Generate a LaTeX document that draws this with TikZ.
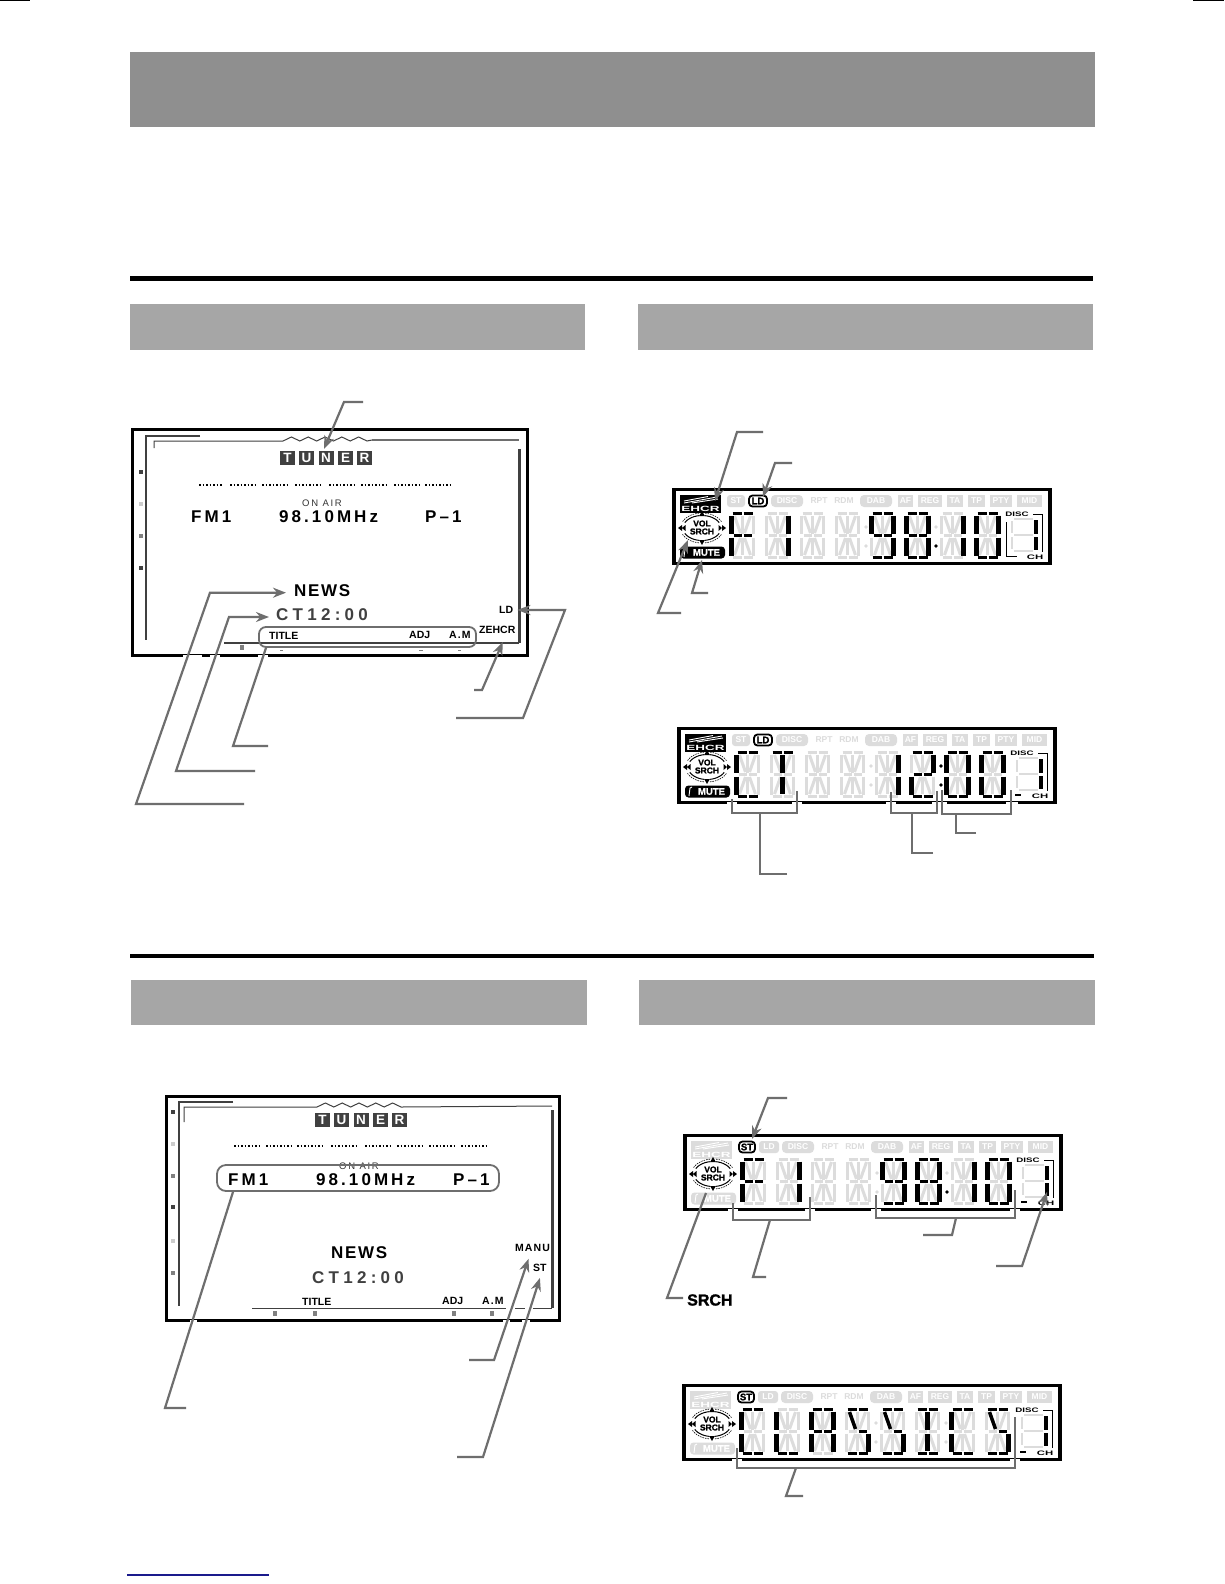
\documentclass[tikz,border=0pt]{standalone}
\usepackage{fontspec}
\usetikzlibrary{arrows.meta}
\setmainfont{Liberation Sans}
\newfontfamily\trkA[LetterSpace=18]{Liberation Sans}
\newfontfamily\trkB[LetterSpace=30]{Liberation Sans}
\newfontfamily\trkC[LetterSpace=10]{Liberation Sans}
\newfontfamily\trkD[LetterSpace=25]{Liberation Sans}
\newfontfamily\heavy[FakeBold=1.5]{Liberation Sans}
\newcommand\fs[1]{\fontsize{#1}{#1}\selectfont}
\definecolor{lcdfaint}{HTML}{DCDCDC}
\definecolor{leadc}{HTML}{6E6E6E}
\definecolor{darkc}{HTML}{404040}
\definecolor{barA}{HTML}{8F8F8F}
\definecolor{barB}{HTML}{A6A6A6}
\definecolor{navyline}{HTML}{1A1A8C}
\tikzset{
  leader/.style={draw=leadc,line width=2.2pt,line join=miter},
  tipped/.style={leader,-{Stealth[length=13pt,width=10pt]}},
  txt/.style={inner sep=0pt,anchor=west,font=\bfseries},
  bigt/.style={txt,font=\trkA\bfseries\fs{17}},
  smallt/.style={txt,font=\bfseries\fs{10.5}},
  fatframe/.style={draw=black,line width=3.4pt},
  rbox/.style={draw=leadc,line width=1.8pt,rounded corners=7pt,inner sep=0pt},
  vseg/.style={},
  faintseg/.style={draw=lcdfaint,line width=3pt,vseg/.style={line width=3.8pt}},
  litseg/.style={draw=black,line width=3.5pt,vseg/.style={line width=5pt}},
  ficon/.style={fill=lcdfaint,text=white,inner sep=0pt,font=\bfseries\fs{8.5},minimum height=12pt},
  liticon/.style={draw=black,fill=white,line width=1.8pt,rounded corners=3.5pt,inner sep=0pt,minimum height=11pt,font=\heavy\bfseries\fs{9.5}},
}
\newcommand\defseg[2]{\expandafter\def\csname Sg#1\endcsname{#2}}
\defseg{Aa}{(3,1.5)--(12,1.5)}
\defseg{Ab}{(14,1.5)--(23,1.5)}
\defseg{Da}{(3,45.5)--(12,45.5)}
\defseg{Db}{(14,45.5)--(23,45.5)}
\defseg{La}{[vseg](2,3.5)--(2,21.5)}
\defseg{Lb}{[vseg](2,25.5)--(2,43.5)}
\defseg{Ra}{[vseg](24,3.5)--(24,21.5)}
\defseg{Rb}{[vseg](24,25.5)--(24,43.5)}
\defseg{Ga}{(4,23.5)--(12,23.5)}
\defseg{Gb}{(14,23.5)--(22,23.5)}
\defseg{Va}{[vseg](13,4)--(13,21.5)}
\defseg{Vb}{[vseg](13,25.5)--(13,43)}
\defseg{Xa}{(5,4)--(11,21)}
\defseg{Xb}{(21,4)--(15,21)}
\defseg{Xc}{(11,26)--(5,43)}
\defseg{Xd}{(15,26)--(21,43)}
\def\allsegs{Aa,Ab,Da,Db,La,Lb,Ra,Rb,Ga,Gb,Va,Vb,Xa,Xb,Xc,Xd}
\def\LtF{Aa,Ab,La,Lb,Ga,Gb}
\def\LtI{Ra,Rb}
\def\LtN{Aa,Ab,La,Ra,Rb,Ga,Gb,Da,Db}
\def\LtE{Aa,Ab,La,Lb,Ra,Rb,Ga,Gb,Da,Db}
\def\LtO{Aa,Ab,La,Lb,Ra,Rb,Da,Db}
\def\LtC{Aa,Ab,La,Lb,Da,Db}
\def\LtT{Aa,Ab,Va,Vb}
\def\LtB{Aa,Ab,Ra,Ga,Gb,Lb,Da,Db}
\def\LtL{La,Lb,Da,Db}
\def\LtA{Aa,Ab,La,Lb,Ra,Rb,Ga,Gb}
\def\LtS{Aa,Ab,Xa,Gb,Rb,Da,Db}
\def\LtJ{Aa,Ab,Va,Vb,Da,Db}
\newcommand\segs[2]{\foreach \sg in #1{\expandafter\let\expandafter\thisseg\csname Sg\sg\endcsname \draw[#2] \thisseg;}}
% #1 prefix #2 x #3 y #4 ehcr #5 st #6 ld #7 mute #8 lit chars #9 mode
\newcommand\lcdpanel[9]{%
\begin{scope}[shift={(#2,#3)}]
  \node[fatframe,inner sep=0pt,minimum width=376pt,minimum height=74pt] (#1frame) at (190,39.5) {};
  % ehcr
  \ifnum#4=1 \def\ec{black}\def\tc{white}\else \def\ec{lcdfaint}\def\tc{white}\fi
  \node[fill=\ec,inner sep=0pt,minimum width=41pt,minimum height=18pt] (#1ehcr) at (28.5,17) {};
  \node[inner sep=0pt,text=\tc] (#1ehcrt) at (28.5,21.5) {\scalebox{1.8}[1]{\bfseries\fs{7.5}EHCR}};
  \draw[\tc,line width=.9pt] (12,16)--(45,10) (20,16)--(46,12) (12,14)--(36,9.5);
  % icons
  \ifnum#5=1
    \node[liticon,minimum width=16pt] (#1st) at (64,14) {ST};
  \else
    \node[ficon,rounded corners=3pt,minimum width=18pt] (#1st) at (64,14) {ST};
  \fi
  \ifnum#6=1
    \node[liticon,minimum width=18pt] (#1ld) at (86,14) {LD};
  \else
    \node[ficon,rounded corners=3pt,minimum width=20pt] (#1ld) at (86,14) {LD};
  \fi
  \node[ficon,rounded corners=4pt,minimum width=32pt] (#1disc) at (115,14) {DISC};
  \node[inner sep=0pt,font=\bfseries\fs{8.5},text=lcdfaint] (#1rpt) at (147,14) {RPT};
  \node[inner sep=0pt,font=\bfseries\fs{8.5},text=lcdfaint] (#1rdm) at (172,14) {RDM};
  \node[ficon,rounded corners=4pt,minimum width=32pt] (#1dab) at (204,14) {DAB};
  \node[ficon,minimum width=15pt] (#1af) at (233.5,14) {AF};
  \node[ficon,minimum width=24pt] (#1reg) at (258,14) {REG};
  \node[ficon,minimum width=16pt] (#1ta) at (283,14) {TA};
  \node[ficon,minimum width=17pt] (#1tp) at (304.5,14) {TP};
  \node[ficon,minimum width=22pt] (#1pty) at (329,14) {PTY};
  \node[ficon,minimum width=25pt] (#1mid) at (357.5,14) {MID};
  % vol srch
  \begin{scope}[shift={(30,41)}]
    \node[inner sep=0pt,font=\heavy\bfseries\fs{8.5}] (#1vol) at (0,-4.5) {VOL};
    \node[inner sep=0pt,font=\heavy\bfseries\fs{8.5}] (#1srch) at (0,3.5) {SRCH};
    \foreach \ra/\rb in {25/82,98/155,205/262,278/335}{
      \draw[black,line width=1pt] plot[domain=\ra:\rb,samples=8] ({19*cos(\x)},{-12.5*sin(\x)});
      \draw[black,line width=.6pt,dash pattern=on 1.5pt off 1pt] plot[domain=\ra:\rb,samples=8] ({21.5*cos(\x)},{-15*sin(\x)});
    }
    \fill[black] (0,-17)--(-2.8,-12)--(2.8,-12)--cycle;
    \fill[black] (0,17)--(-2.8,12)--(2.8,12)--cycle;
    \fill[black] (-24,0)--(-20,-3)--(-20,3)--cycle (-20,0)--(-16.5,-3)--(-16.5,3)--cycle;
    \fill[black] (24,0)--(20,-3)--(20,3)--cycle (20,0)--(16.5,-3)--(16.5,3)--cycle;
  \end{scope}
  % mute
  \ifnum#7=1 \def\mc{black}\else \def\mc{lcdfaint}\fi
  \node[fill=\mc,text=white,rounded corners=3.5pt,inner sep=0pt,minimum width=45pt,minimum height=12pt,font=\heavy\bfseries\fs{9.5}] (#1mute) at (30.5,65.5) {\hspace{8pt}MUTE};
  \draw[white,line width=.9pt] (12,70)--(13,62)--(15,61);
  % 14-seg characters
  \foreach \ci in {0,...,7}{\begin{scope}[shift={(57.5+35*\ci,25)}]\segs{\allsegs}{faintseg}\end{scope}}
  \foreach \ci/\cn in #8{\begin{scope}[shift={(57.5+35*\ci,25)}]
     \expandafter\let\expandafter\thisl\csname Lt\cn\endcsname \segs{\thisl}{litseg}\end{scope}}
  % dots
  \fill[lcdfaint] (194,40) circle (1.8) (194,59) circle (1.8) (264,40) circle (1.8);
  \ifnum#9=2
    \fill[black] (264,40) circle (1.8) (264,59) circle (1.8);
  \else\ifnum#9=4
    \fill[lcdfaint] (264,59) circle (1.8);
  \else
    \fill[black] (264,59) circle (1.8);
  \fi\fi
  % small digit
  \draw[lcdfaint,line width=2.6pt] (342,32)--(361,32) (342,48)--(361,48) (342,64)--(361,64) (340,34)--(340,46) (340,50)--(340,62);
  \draw[black,line width=3.2pt] (364,33)--(364,47) (364,50)--(364,63);
  \node[inner sep=0pt] (#1dsc) at (345,27) {\scalebox{1.5}[1]{\bfseries\fs{6.5}DISC}};
  \node[inner sep=0pt] (#1ch) at (363,70) {\scalebox{1.75}[1]{\bfseries\fs{6.5}CH}};
  \draw[black,line width=.8pt] (361,27)--(370,27)--(370,65);
  \ifnum#9=1
    \draw[black,line width=.8pt] (334,35)--(334,69)--(345,69);
  \else
    \draw[black,line width=1.3pt] (338,69)--(344,69);
  \fi
\end{scope}}
\newcommand\tunerbox[3]{\node[fill=darkc,text=white,font=\bfseries\fs{13.5},inner sep=0pt,minimum width=15pt,minimum height=14pt] (#1) at (#2) {#3};}
\begin{document}
\begin{tikzpicture}[x=1pt,y=-1pt]
\useasboundingbox (0,0) rectangle (1224,1584);
\fill[white] (0,0) rectangle (1224,1584);
% crop marks, bars, rules
\draw[black,line width=1.4pt] (0,.7)--(30,.7) (1193,.7)--(1224,.7);
\fill[barA] (130,52) rectangle (1095,127);
\fill[black] (130,276) rectangle (1093,281);
\fill[barB] (130,304) rectangle (585,350);
\fill[barB] (638,304) rectangle (1093,350);
\fill[black] (130,954) rectangle (1094,958);
\fill[barB] (131,980) rectangle (587,1025);
\fill[barB] (639,980) rectangle (1095,1025);
\draw[navyline,line width=1.3pt] (127,1575)--(269,1575);

%% SCREEN 1
\node[fatframe,inner sep=0pt,minimum width=394.6pt,minimum height=225.6pt] (sa) at (330,542.5) {};
\draw[darkc,line width=1.5pt] (200,436)--(146,436)--(146,640);
\draw[darkc,line width=1pt] (154,448)--(154,441)--(283,441) -- ++(8.4,-4) -- ++(8.4,4) -- ++(8.4,-4) -- ++(8.4,4) -- ++(8.4,-4) -- ++(8.4,4) -- ++(8.4,-4) -- ++(8.4,4) -- ++(8.4,-4) -- ++(8.4,4) -- ++(5,-1);
\draw[leadc,line width=1.2pt] (372,440)--(519,440);
\draw[darkc,line width=3pt] (519,449)--(519,643);
\draw[darkc,line width=1.2pt] (224,643)--(519,643);
\foreach \yy/\cc in {472/darkc,504/gray!40,536/gray,568/darkc}{\fill[\cc] (139,\yy-2) rectangle (143,\yy+2);}
\tunerbox{saT}{287.5,458}{T}
\tunerbox{saU}{306.5,458}{U}
\tunerbox{saN}{326,458}{N}
\tunerbox{saE}{345.5,458}{E}
\tunerbox{saR}{364.5,458}{R}
\foreach \xa/\xb in {199/223,230/255,262/287,295/320,329/354,361/387,394/419,425/451}{
  \draw[black,line width=1.3pt,dash pattern=on 1.6pt off 1.9pt] (\xa,485)--(\xb,485);}
\node[txt,anchor=center,font=\trkA\fs{9.5},text=black!80] (saon) at (322,503) {ON AIR};
\node[bigt] (safm) at (191,517) {FM1};
\node[bigt] (safr) at (279,517) {98.10MHz};
\node[bigt] (sap) at (425,517) {P–1};
\node[txt,font=\trkC\bfseries\fs{17}] (sanews) at (294,591) {NEWS};
\node[txt,font=\trkD\bfseries\fs{17},text=darkc] (sact) at (276,615) {CT12:00};
\node[rbox,minimum width=217pt,minimum height=20pt] (sabox) at (367.5,637) {};
\node[smallt] (satitle) at (269,636) {TITLE};
\node[smallt] (saadj) at (409,635) {ADJ};
\node[smallt,font=\trkC\bfseries\fs{10.5}] (saam) at (449,635) {A.M};
\node[smallt] (saz) at (479,630) {ZEHCR};
\node[smallt] (sald) at (499,610) {LD};
\fill[gray] (240,645) rectangle (244,650);
\draw[gray,line width=.8pt] (280,650)--(283,650) (419,650)--(423,650) (458,650)--(461,650);
\draw[white,line width=5pt] (183,657)--(202,657) (210,657)--(220,657) (258,657)--(268,657);
\coordinate (a1) at (363,402);
\coordinate (a2) at (244,804);
\coordinate (a3) at (255,771);
\coordinate (a4) at (268,746);
\coordinate (a5) at (474,690);
\coordinate (a6) at (456,718);
\draw[tipped] (a1)--(344,402)--([shift={(-2,-9)}]saN.center);
\draw[tipped] (a2)--(136,804)--(210,592.7)--([xshift=-8pt,shift={(0,1.7)}]sanews.west);
\draw[tipped] (a3)--(176,771)--(229,617)--([xshift=-7pt,shift={(0,2)}]sact.west);
\draw[leader] (a4)--(233,746)--([xshift=-101.5pt]sabox.south);
\draw[tipped] (a5)--(482,690)--([shift={(5.5,12)}]saz.center);
\draw[tipped] (a6)--(523,718)--(565,610)--([xshift=4pt]sald.east);

%% PANEL 1
\lcdpanel{pa}{672}{487}{1}{0}{1}{1}{{0/F,1/I,4/N,5/E,6/I,7/O}}{1}
\coordinate (b1) at (763,432);
\coordinate (b2) at (792,463);
\coordinate (b3) at (681,613);
\coordinate (b4) at (708,593);
\draw[tipped] (b1)--(737,432)--([shift={(14.5,-3)}]paehcr.center);
\draw[tipped] (b2)--(775,463)--([shift={(5,-4)}]pald.center);
\draw[tipped] (b3)--(658,613)--([shift={(-14,8.5)}]pasrch.center);
\draw[tipped] (b4)--(692,593)--([shift={(-.5,7.5)}]pamute.center);

%% PANEL 2
\lcdpanel{pb}{677}{726}{1}{0}{1}{1}{{0/C,1/T,4/I,5/B,6/O,7/O}}{2}
\draw[white,line width=5pt] (727,804)--(737,804) (792,804)--(802,804) (886,804)--(896,804) (932,804)--(947,804) (1006,804)--(1018,804);
\coordinate (c1) at (787,874);
\coordinate (c2) at (933,853);
\coordinate (c3) at (976,833);
\draw[leader] (732,799)--(732,813)--(797,813)--(797,791);
\draw[leader] (891,792)--(891,813)--(937,813)--(937,791);
\draw[leader] (942,790)--(942,814)--(1011,814)--(1011,790);
\draw[leader] (c1)--(760,874)--(760,813);
\draw[leader] (c2)--(912,853)--(912,813);
\draw[leader] (c3)--(956,833)--(956,814);

%% SCREEN 2
\node[fatframe,inner sep=0pt,minimum width=392.6pt,minimum height=223.6pt] (sb) at (363,1208.5) {};
\draw[darkc,line width=1.5pt] (233,1102)--(179,1102)--(179,1306);
\draw[darkc,line width=1pt] (184,1122)--(184,1107)--(317,1107) -- ++(8.4,-4) -- ++(8.4,4) -- ++(8.4,-4) -- ++(8.4,4) -- ++(8.4,-4) -- ++(8.4,4) -- ++(8.4,-4) -- ++(8.4,4) -- ++(8.4,-4) -- ++(8.4,4) -- (552,1106);
\draw[darkc,line width=3pt] (552,1110)--(552,1308);
\draw[darkc,line width=1pt] (252,1308)--(552,1308);
\foreach \yy/\cc in {1112/darkc,1144/gray!40,1176/gray,1207/darkc,1241/gray!40,1273/gray}{\fill[\cc] (171,\yy-2) rectangle (175,\yy+2);}
\tunerbox{sbT}{322.5,1119.5}{T}
\tunerbox{sbU}{341.5,1119.5}{U}
\tunerbox{sbN}{361,1119.5}{N}
\tunerbox{sbE}{380.5,1119.5}{E}
\tunerbox{sbR}{399.5,1119.5}{R}
\foreach \xa/\xb in {234/260,266/292,297/323,331/357,365/391,397/422,429/454,461/487}{
  \draw[black,line width=1.3pt,dash pattern=on 1.6pt off 1.9pt] (\xa,1146)--(\xb,1146);}
\node[txt,anchor=center,font=\trkA\fs{9.5},text=black!80] (sbon) at (359,1166) {ON AIR};
\node[rbox,minimum width=282pt,minimum height=26pt,rounded corners=9pt] (sbbox) at (358,1178) {};
\node[bigt] (sbfm) at (228,1180) {FM1};
\node[bigt] (sbfr) at (316,1180) {98.10MHz};
\node[bigt] (sbp) at (453,1180) {P–1};
\node[txt,font=\trkC\bfseries\fs{17}] (sbnews) at (331,1253) {NEWS};
\node[txt,font=\trkD\bfseries\fs{17},text=darkc] (sbct) at (312,1278) {CT12:00};
\node[smallt] (sbtitle) at (302,1302) {TITLE};
\node[smallt] (sbadj) at (442,1301) {ADJ};
\node[smallt,font=\trkC\bfseries\fs{10.5}] (sbam) at (482,1301) {A.M};
\node[smallt,font=\trkC\bfseries\fs{10.5}] (sbmanu) at (515,1248) {MANU};
\node[smallt] (sbst) at (533,1268) {ST};
\foreach \xx in {275,315,454,492}{\fill[gray] (\xx-2,1311) rectangle (\xx+2,1316);}
\draw[white,line width=5pt] (190,1322)--(197,1322) (503,1322)--(510,1322) (522,1322)--(530,1322);
\draw[white,line width=2pt] (506,1308)--(515,1308) (525,1308)--(533,1308);
\coordinate (d1) at (186,1408);
\coordinate (d2) at (469,1360);
\coordinate (d3) at (457,1457);
\draw[leader] (d1)--(165,1408)--([xshift=-125pt]sbbox.south);
\draw[tipped] (d2)--(494,1360)--([shift={(-4,7)}]sbmanu.south);
\draw[tipped] (d3)--(483,1457)--([shift={(0,6)}]sbst.south);

%% PANEL 3
\lcdpanel{pc}{683}{1133}{0}{1}{0}{0}{{0/F,1/I,4/N,5/E,6/I,7/O}}{3}
\draw[white,line width=5pt] (728,1211)--(738,1211) (805,1211)--(815,1211) (871,1211)--(881,1211) (1010,1211)--(1020,1211);
\coordinate (e1) at (787,1098);
\coordinate (e2) at (766,1277);
\coordinate (e3) at (923,1235);
\coordinate (e4) at (996,1266);
\node[txt,font=\heavy\bfseries\fs{16}] (esr) at (687,1300) {SRCH};
\draw[leader] (733,1203)--(733,1220)--(810,1220)--(810,1197);
\draw[leader] (876,1195)--(876,1218)--(1015,1218)--(1015,1190);
\draw[tipped] (e1)--(768,1098)--([shift={(5,-8)}]pcst.center);
\draw[leader] ([shift={(-4,-2)}]esr.west)--(667,1298)--([shift={(-7,15.5)}]pcsrch.center);
\draw[leader] (e2)--(753,1277)--(770,1220);
\draw[leader] (e3)--(952,1235)--(956,1218);
\draw[tipped] (e4)--(1022,1266)--([shift={(1,-11)}]pcch.center);

%% PANEL 4
\lcdpanel{pd}{682}{1383}{0}{1}{0}{0}{{0/C,1/L,2/A,3/S,4/S,5/J,6/C,7/S}}{4}
\draw[white,line width=5pt] (732,1461)--(742,1461) (1010,1461)--(1020,1461);
\coordinate (f1) at (803,1496);
\draw[leader] (737,1448)--(737,1468)--(1015,1468)--(1015,1417);
\draw[leader] (f1)--(786,1496)--(796,1468);
\end{tikzpicture}
\end{document}
